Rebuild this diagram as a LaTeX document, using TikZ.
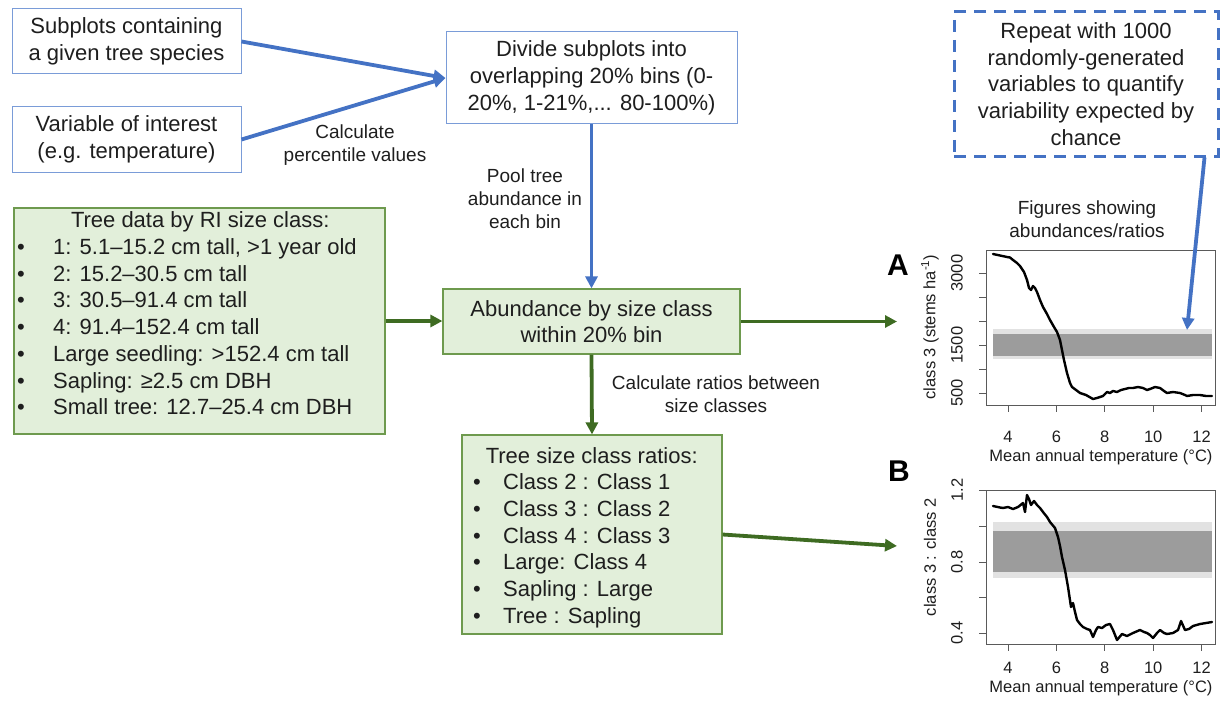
\documentclass[tikz,border=0pt]{standalone}
\usepackage{fontspec}
\setmainfont{Liberation Sans}
\usetikzlibrary{arrows.meta,calc}
\definecolor{arrowblue}{HTML}{4472C4}
\definecolor{boxblue}{HTML}{7A9CD8}
\definecolor{greenfill}{HTML}{E2EFDA}
\definecolor{boxgreen}{HTML}{6E9A4E}
\definecolor{arrowgreen}{HTML}{3E6B22}
\definecolor{bandlight}{HTML}{E2E2E2}
\definecolor{banddark}{HTML}{9C9C9C}
\definecolor{framegray}{HTML}{5A5A5A}
\definecolor{textdark}{HTML}{1E1E1E}
\begin{document}
\begin{tikzpicture}[x=1pt,y=-1pt,
  every node/.style={text=textdark},
  boxtext/.style={font=\fontsize{22}{26.7}\selectfont, align=center},
  smalltext/.style={font=\fontsize{19}{23.2}\selectfont, align=center, inner sep=0},
  axistext/.style={font=\fontsize{16.5}{19}\selectfont, inner sep=0},
  bluebox/.style={boxtext, draw=boxblue, line width=1pt, fill=white, inner sep=0},
  greenbox/.style={boxtext, draw=boxgreen, line width=1.2pt, fill=greenfill, inner sep=0},
  dashbox/.style={boxtext, draw=arrowblue, line width=3pt, dash pattern=on 12pt off 8pt, inner sep=0},
  bluearrow/.style={draw=arrowblue, line width=3.8pt, -{Triangle[length=12pt,width=12pt]}},
  greenarrow/.style={draw=arrowgreen, line width=3.8pt, -{Triangle[length=12pt,width=12pt]}},
  frame/.style={draw=framegray, line width=1pt},
  tick/.style={draw=framegray, line width=1pt},
  curve/.style={draw=black, line width=2.4pt, line join=round, line cap=round},
  panel/.style={font=\fontsize{30}{32}\selectfont\bfseries, inner sep=0, text=black}
]
\useasboundingbox (0,0) rectangle (1220,706);

% ---------- top left boxes ----------
\node[bluebox, minimum width=229pt, minimum height=65pt] (subplots) at (126.5,41.5)
  {Subplots containing\\a given tree species};
\node[bluebox, minimum width=229pt, minimum height=65pt] (variable) at (126.5,139.5)
  {Variable of interest\\(e.g. temperature)};
\node[bluebox, minimum width=291pt, minimum height=92pt] (divide) at (591.5,78)
  {Divide subplots into\\overlapping 20\% bins (0-\\20\%, 1-21\%,... 80-100\%)};

\draw[bluearrow] (subplots.east) -- (divide.west);
\draw[bluearrow] (variable.east) -- (divide.west);
\node[smalltext] (calcperc) at (355,145) {Calculate\\percentile values};

% ---------- abundance box ----------
\node[greenbox, minimum width=297pt, minimum height=65pt] (abund) at (591.5,321.5)
  {Abundance by size class\\within 20\% bin};
\draw[bluearrow] (divide.south) -- (abund.north);
\node[smalltext] (pool) at (525,199) {Pool tree\\abundance in\\each bin};

% ---------- tree data box ----------
\node[greenbox, minimum width=371pt, minimum height=226pt] (data) at (199.5,321) {};
\node[anchor=north west, inner sep=0, font=\fontsize{22}{26.7}\selectfont] (datatext) at (17,209)
{\begin{tabular}{@{}p{36pt}@{}p{330pt}@{}}
\multicolumn{2}{@{}c@{}}{Tree data by RI size class:}\\
\textbullet & 1: 5.1–15.2 cm tall, >1 year old\\
\textbullet & 2: 15.2–30.5 cm tall\\
\textbullet & 3: 30.5–91.4 cm tall\\
\textbullet & 4: 91.4–152.4 cm tall\\
\textbullet & Large seedling: >152.4 cm tall\\
\textbullet & Sapling: ≥2.5 cm DBH\\
\textbullet & Small tree: 12.7–25.4 cm DBH
\end{tabular}};
\draw[greenarrow] (data.east) -- (data.east -| abund.west);

% ---------- ratios box ----------
\node[greenbox, minimum width=260pt, minimum height=199pt] (ratios) at (592,534.5) {};
\node[anchor=north west, inner sep=0, font=\fontsize{22}{26.7}\selectfont] (ratiotext) at (473,444.2)
{\begin{tabular}{@{}p{30pt}@{}p{207pt}@{}}
\multicolumn{2}{@{}c@{}}{Tree size class ratios:}\\
\textbullet & Class 2 : Class 1\\
\textbullet & Class 3 : Class 2\\
\textbullet & Class 4 : Class 3\\
\textbullet & Large: Class 4\\
\textbullet & Sapling : Large\\
\textbullet & Tree : Sapling
\end{tabular}};
\draw[greenarrow] (abund.south) -- (ratios.north);
\node[smalltext] (calcratio) at (716,394) {Calculate ratios between\\size classes};

% ---------- repeat box ----------
\node[dashbox, minimum width=264pt, minimum height=144pt] (repeat) at (1086,84)
  {Repeat with 1000\\randomly-generated\\variables to quantify\\variability expected by\\chance};
\node[smalltext] (figs) at (1087,219) {Figures showing\\abundances/ratios};

% ---------- arrows to plots ----------
\coordinate (tipA) at (897,321.5);
\coordinate (tipB) at (897,546);
\coordinate (tipRep) at (1187,330);
\draw[greenarrow] (abund.east) -- (tipA);
\draw[greenarrow] (ratios.east) -- (tipB);

% ---------- plot A ----------
\fill[bandlight] (993,329) rectangle (1212,359);
\fill[banddark] (993,334) rectangle (1212,356);
\draw[curve] plot coordinates {(993,254) (1000,255.5) (1007,257) (1010,257.5) (1013,260) (1017,263) (1020,266) (1024,272) (1027,280) (1029,288) (1031,290) (1033,286) (1035,288) (1037,292) (1040,300) (1043,307) (1047,314) (1050,320) (1054,327) (1057,332) (1060,340) (1062,350) (1064,360) (1067,373) (1070,383) (1072,387) (1076,390) (1080,393) (1086,395) (1093,399) (1097,398) (1100,397) (1103,396) (1107,392) (1110,393) (1113,391) (1117,392) (1121,390) (1125,389) (1129,388) (1133,388) (1138,387) (1143,388) (1147,390) (1150,389) (1155,387) (1160,388) (1164,391) (1167,393) (1173,392) (1180,393) (1185,395) (1187,396) (1193,395) (1200,395) (1206,396) (1212,396)};
\draw[frame] (986,250) rectangle (1215,405);
\foreach \yy in {273,297,321,345,369,393} \draw[tick] (986,\yy) -- (979,\yy);
\foreach \xx in {1008,1056.4,1104.8,1153.2,1201.6} \draw[tick] (\xx,405) -- (\xx,412);
\node[axistext, rotate=90] (aty1) at (957,273) {3000};
\node[axistext, rotate=90] (aty2) at (957,345) {1500};
\node[axistext, rotate=90] (aty3) at (957,393) {500};
\node[axistext] (atx1) at (1008,437) {4};
\node[axistext] (atx2) at (1056.4,437) {6};
\node[axistext] (atx3) at (1104.8,437) {8};
\node[axistext] (atx4) at (1153.2,437) {10};
\node[axistext] (atx5) at (1201.6,437) {12};
\node[axistext] (axtitle) at (1101,457) {Mean annual temperature (°C)};
\node[axistext, rotate=90] (aytitle) at (930,327) {class 3 (stems ha\textsuperscript{-1})};
\node[panel] (panelA) at (898,265) {A};

\draw[bluearrow] ([xshift=-15pt]repeat.south east) -- (tipRep);

% ---------- plot B ----------
\fill[bandlight] (993,522) rectangle (1212,578);
\fill[banddark] (993,531) rectangle (1212,572);
\draw[curve] plot coordinates {(993,506) (1000,507.5) (1003,508) (1008,507) (1013,509) (1018,507) (1023,503) (1025,512) (1027,495) (1029,499) (1031,505) (1034,501) (1037,505) (1040,508) (1043,512) (1047,517) (1050,522) (1055,528) (1058,537) (1060,546) (1062,557) (1065,570) (1068,587) (1071,607) (1073,603) (1075,612) (1077,620) (1080,624) (1083,627) (1087,629) (1090,630) (1093,637) (1096,630) (1098,627) (1102,628) (1106,625) (1110,624) (1113,630) (1117,640) (1122,634) (1127,636) (1133,633) (1140,630) (1144,632) (1147,633) (1150,635) (1153,638) (1157,633) (1160,630) (1164,633) (1167,634) (1173,633) (1178,630) (1181,621) (1185,630) (1189,629) (1193,626) (1200,624) (1206,623) (1212,622)};
\draw[frame] (986,490) rectangle (1215,644);
\foreach \yy in {490,526,562,597.5,633} \draw[tick] (986,\yy) -- (979,\yy);
\foreach \xx in {1008,1056.4,1104.8,1153.2,1201.6} \draw[tick] (\xx,644) -- (\xx,651);
\node[axistext, rotate=90] (bty1) at (957,490) {1.2};
\node[axistext, rotate=90] (bty2) at (957,562) {0.8};
\node[axistext, rotate=90] (bty3) at (957,633) {0.4};
\node[axistext] (btx1) at (1008,668) {4};
\node[axistext] (btx2) at (1056.4,668) {6};
\node[axistext] (btx3) at (1104.8,668) {8};
\node[axistext] (btx4) at (1153.2,668) {10};
\node[axistext] (btx5) at (1201.6,668) {12};
\node[axistext] (bxtitle) at (1101,688) {Mean annual temperature (°C)};
\node[axistext, rotate=90] (bytitle) at (930,557) {class 3 : class 2};
\node[panel] (panelB) at (899,471) {B};
\end{tikzpicture}
\end{document}
